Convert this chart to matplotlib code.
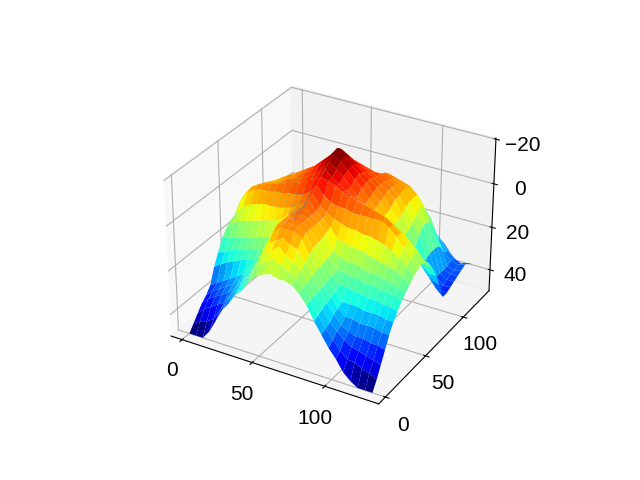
import numpy as np
import matplotlib
matplotlib.use("Agg")
import matplotlib.pyplot as plt

x = np.arange(27) * 4.9
y = np.arange(27) * 4.9
z = np.array([
    [50,50,50,46,40,34,30,25,22,17,14,12,11,12,12,13,16,20,26,31,36,40,45,48,50,50,50],
    [47,45,44,42,37,32,28,24,20,14,10,8,6,8,10,12,14,19,25,30,34,38,41,41,43,44,46],
    [44,41,39,37,35,30,27,22,18,12,8,5,2,5,7,10,14,19,24,29,32,35,37,38,39,40,41],
    [41,38,36,34,32,29,25,21,16,9,4,2,0,2,3,8,13,18,23,27,31,33,34,34,35,35,36],
    [39,36,34,32,30,27,23,20,14,7,1,-2,-2,-2,0,6,12,18,22,26,29,29,30,30,30,31,31],
    [36,34,32,30,28,26,22,19,13,6,-1,-3,-3,-3,-1,5,12,17,21,25,25,25,26,26,26,27,27],
    [29,27,25,24,22,21,20,17,12,5,-1,-3,-4,-3,-1,4,11,17,20,20,21,21,22,22,23,23,24],
    [24,23,21,20,19,18,17,16,11,4,-1,-3,-5,-3,-1,4,11,16,16,17,17,18,18,19,19,20,21],
    [19,18,17,16,15,14,13,12,10,3,-1,-3,-6,-3,-1,3,10,12,13,13,14,15,15,16,17,18,19],
    [16,13,11,10,9,8,7,6,5,2,-1,-3,-8,-3,-1,2,6,7,8,8,9,10,11,12,13,15,17],
    [14,10,6,4,3,2,2,2,1,0,-2,-4,-9,-4,-2,0,1,2,2,3,3,4,5,7,9,12,15],
    [13,5,1,-1,-2,-2,-3,-3,-4,-4,-5,-7,-11,-7,-5,-4,-4,-3,-3,-3,-3,-3,-1,2,6,10,14],
    [12,4,0,-2,-3,-4,-5,-6,-7,-8,-10,-11,-13,-12,-11,-9,-8,-7,-6,-5,-4,-3,-1,2,5,9,13],
    [13,5,1,-1,-2,-3,-4,-5,-6,-7,-9,-11,-15,-12,-10,-8,-6,-5,-3,-2,-1,0,2,4,7,10,14],
    [14,6,2,0,-1,-2,-4,-5,-6,-8,-10,-13,-17,-14,-12,-8,-5,-2,1,3,5,7,9,11,13,15,16],
    [15,7,3,1,0,-2,-3,-5,-7,-9,-12,-15,-19,-16,-13,-10,-7,-3,0,3,6,9,12,15,18,20,20],
    [16,8,4,2,0,-2,-3,-5,-7,-10,-13,-16,-20,-17,-14,-11,-8,-4,-1,3,7,11,15,19,22,25,25],
    [17,9,5,3,1,-1,-3,-5,-7,-9,-12,-15,-18,-15,-13,-10,-8,-5,-2,2,7,13,18,23,27,30,31],
    [19,11,6,4,2,0,-2,-4,-6,-8,-10,-13,-15,-13,-11,-9,-7,-5,-3,0,6,12,18,26,31,35,38],
    [21,12,8,5,3,1,-1,-3,-5,-7,-9,-10,-12,-10,-9,-7,-6,-5,-3,0,4,10,15,25,33,37,38],
    [23,14,9,7,5,3,1,-1,-3,-5,-7,-8,-9,-8,-7,-6,-6,-4,-3,-1,3,8,12,24,34,37,37],
    [25,16,11,8,6,4,2,0,-2,-3,-4,-4,-5,-5,-4,-3,-5,-3,-2,-1,3,6,12,24,34,36,36],
    [27,18,13,10,8,6,4,2,1,0,-1,-1,-2,-2,-1,-1,-3,-2,-1,0,3,8,14,24,34,35,35],
    [30,21,16,13,10,8,6,4,3,3,2,2,1,1,2,2,0,1,2,6,7,12,18,26,34,35,34],
    [33,26,20,16,13,11,8,7,6,6,5,5,5,5,5,5,6,8,11,10,12,16,24,30,33,34,33],
    [36,30,25,21,17,14,11,10,9,9,8,8,8,8,8,8,9,10,14,17,20,24,27,31,34,35,34],
    [40,34,30,26,22,18,14,12,12,11,11,11,11,11,10,10,11,12,17,20,24,27,30,34,37,37,36],
])
xticks = [0, 50, 100]
yticks = [0, 50, 100]
zticks = [-20, 0, 20, 40]

plt.rcParams["font.family"] = ["Liberation Sans", "DejaVu Sans"]
plt.rcParams["font.size"] = 15

fig = plt.figure(figsize=(6.4, 4.8), dpi=100)
ax = fig.add_subplot(projection="3d")
X, Y = np.meshgrid(x, y)
ax.plot_surface(X, Y, z, cmap="jet_r", rstride=1, cstride=1, linewidth=0)
ax.set_xlim(-8, 136)
ax.set_ylim(-8, 136)
ax.set_zlim(50, -20.5)
ax.set_xticks(xticks)
ax.set_yticks(yticks)
ax.set_zticks(zticks)
fig.savefig("out.png", dpi=100)
